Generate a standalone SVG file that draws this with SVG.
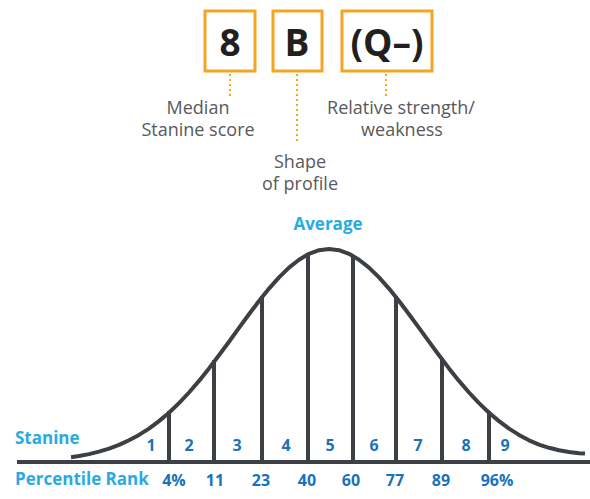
<svg xmlns="http://www.w3.org/2000/svg" width="590" height="499" viewBox="0 0 590 499">
<style>
.box{fill:#fff;stroke:#f4a522;stroke-width:3}
.boxt{font-family:"Open Sans","Liberation Sans",sans-serif;font-weight:bold;font-size:37px;fill:#231f20;text-anchor:middle}
.dot{stroke:#f4a522;stroke-width:2;stroke-dasharray:2 3;fill:none}
.lbl{font-family:"Open Sans","Liberation Sans",sans-serif;font-size:18px;fill:#58595b;text-anchor:middle}
.ax{stroke:#3c3f43;stroke-width:4;fill:none}
.curve{stroke:#3c3f43;stroke-width:4;fill:none;stroke-linejoin:round}
.lb{font-family:"Open Sans","Liberation Sans",sans-serif;font-weight:bold;font-size:17px;fill:#29abe2}
.num{font-family:"Open Sans","Liberation Sans",sans-serif;font-weight:bold;font-size:16px;fill:#1b72b8;text-anchor:middle}
</style>
<rect width="590" height="499" fill="#fff"/>
<g id="box-median">
<rect class="box" x="205" y="11" width="50" height="60"/>
<text class="boxt" x="230" y="56">8</text>
</g>
<g id="box-shape">
<rect class="box" x="273" y="11" width="49" height="60"/>
<text class="boxt" x="297" y="56">B</text>
</g>
<g id="box-strength">
<rect class="box" x="342" y="11" width="90" height="60"/>
<text class="boxt" x="387" y="56">(Q–)</text>
</g>
<g id="connectors">
<line class="dot" x1="230" y1="74" x2="230" y2="96"/>
<line class="dot" x1="297" y1="74" x2="297" y2="144"/>
<line class="dot" x1="386" y1="74" x2="386" y2="96"/>
</g>
<g id="label-median">
<text class="lbl" x="198" y="114">Median</text>
<text class="lbl" x="198" y="136">Stanine score</text>
</g>
<g id="label-shape">
<text class="lbl" x="300" y="168">Shape</text>
<text class="lbl" x="300" y="190">of profile</text>
</g>
<g id="label-strength">
<text class="lbl" x="401" y="114">Relative strength/</text>
<text class="lbl" x="402" y="136">weakness</text>
</g>
<g id="chart">
<text class="lb" x="328" y="230" text-anchor="middle">Average</text>
<polyline class="curve" points="71,457.3 79,456.0 89,454.1 99,451.6 109,448.6 119,444.9 129,440.3 139,434.9 149,428.6 159,421.1 169,412.7 179,403.1 189,392.5 199,380.9 209,368.4 219,355.3 229,341.7 239,327.9 249,314.2 259,301.0 269,288.6 279,277.4 289,267.6 299,259.7 309,253.8 319,250.2 329,249 339,250.2 349,253.8 359,259.7 369,267.6 379,277.4 389,288.6 399,301.0 409,314.2 419,327.9 429,341.7 439,355.3 449,368.4 459,380.9 469,392.5 479,403.1 489,412.7 499,421.1 509,428.6 519,434.9 529,440.3 539,444.6 549,447.8 559,450.2 569,452.0 579,453.2 585,453.6"/>
<line class="ax" x1="169" y1="411" x2="169" y2="462"/>
<line class="ax" x1="214" y1="360" x2="214" y2="462"/>
<line class="ax" x1="262" y1="296" x2="262" y2="462"/>
<line class="ax" x1="308" y1="253" x2="308" y2="462"/>
<line class="ax" x1="353" y1="255" x2="353" y2="462"/>
<line class="ax" x1="396" y1="296" x2="396" y2="462"/>
<line class="ax" x1="442" y1="358" x2="442" y2="462"/>
<line class="ax" x1="489" y1="411" x2="489" y2="462"/>
<line class="ax" x1="17" y1="462" x2="590" y2="462"/>
<text class="lb" x="15" y="444">Stanine</text>
<text class="lb" x="15" y="485">Percentile Rank</text>
<text class="num" x="151" y="451">1</text>
<text class="num" x="189" y="451">2</text>
<text class="num" x="237" y="451">3</text>
<text class="num" x="286" y="451">4</text>
<text class="num" x="330" y="451">5</text>
<text class="num" x="374" y="451">6</text>
<text class="num" x="418" y="451">7</text>
<text class="num" x="466" y="451">8</text>
<text class="num" x="505" y="451">9</text>
<text class="num" x="174" y="486">4%</text>
<text class="num" x="215" y="486">11</text>
<text class="num" x="261" y="486">23</text>
<text class="num" x="307" y="486">40</text>
<text class="num" x="351" y="486">60</text>
<text class="num" x="395" y="486">77</text>
<text class="num" x="441" y="486">89</text>
<text class="num" x="497" y="486">96%</text>
</g>
</svg>
